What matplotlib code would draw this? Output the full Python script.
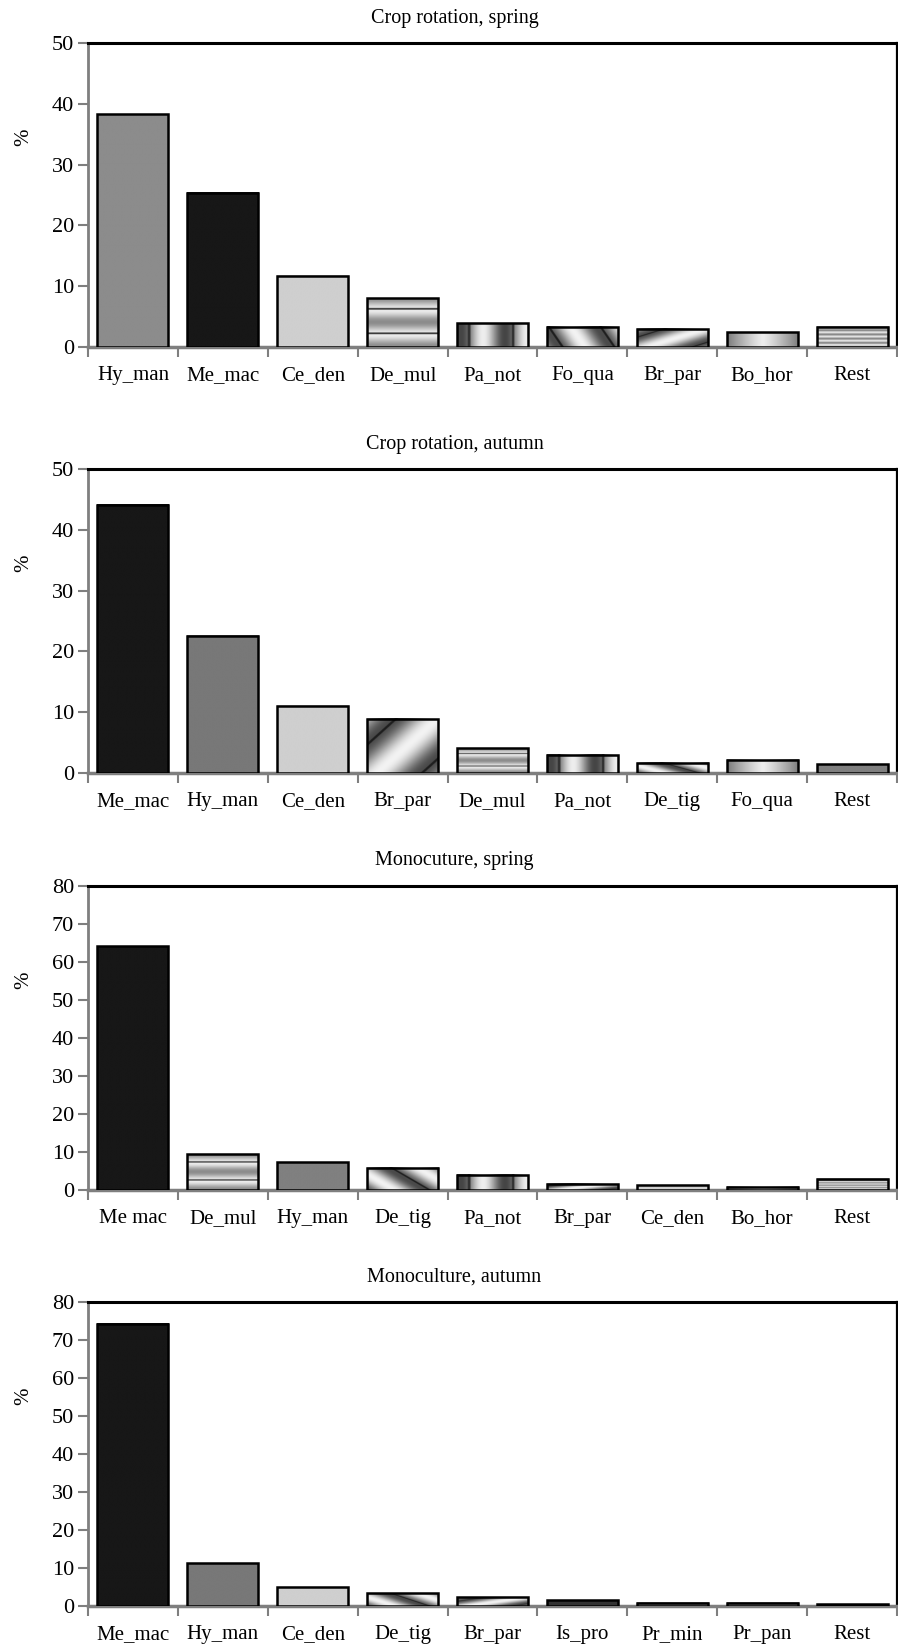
import numpy as np
import matplotlib
matplotlib.use("Agg")
import matplotlib.pyplot as plt
from matplotlib.ticker import MultipleLocator

plt.rcParams['font.family'] = ['Liberation Serif', 'DejaVu Serif']

# ---- data -------------------------------------------------------------
titles = ["Crop rotation, spring", "Crop rotation, autumn",
          "Monocuture, spring", "Monoculture, autumn"]

species_rot_spring = ["Hy_man", "Me_mac", "Ce_den", "De_mul", "Pa_not",
                      "Fo_qua", "Br_par", "Bo_hor", "Rest"]
pct_rot_spring = [38.3, 25.4, 11.7, 8.0, 3.9, 3.3, 3.0, 2.4, 3.3]

species_rot_autumn = ["Me_mac", "Hy_man", "Ce_den", "Br_par", "De_mul",
                      "Pa_not", "De_tig", "Fo_qua", "Rest"]
pct_rot_autumn = [44.1, 22.6, 11.1, 8.9, 4.1, 3.0, 1.7, 2.2, 1.4]

species_mono_spring = ["Me mac", "De_mul", "Hy_man", "De_tig", "Pa_not",
                       "Br_par", "Ce_den", "Bo_hor", "Rest"]
pct_mono_spring = [64.2, 9.4, 7.3, 5.8, 4.0, 1.7, 1.3, 0.8, 3.0]

species_mono_autumn = ["Me_mac", "Hy_man", "Ce_den", "De_tig", "Br_par",
                       "Is_pro", "Pr_min", "Pr_pan", "Rest"]
pct_mono_autumn = [74.3, 11.2, 4.9, 3.3, 2.3, 1.5, 0.9, 0.9, 0.4]

y_max = [50, 50, 80, 80]

panels = [
    (species_rot_spring, pct_rot_spring),
    (species_rot_autumn, pct_rot_autumn),
    (species_mono_spring, pct_mono_spring),
    (species_mono_autumn, pct_mono_autumn),
]

# ---- fill styles (grey level or textured gradient) --------------------
fill_style = {
    "Hy_man": ("solid", 0.50),
    "Me_mac": ("solid", 0.09),
    "Me mac": ("solid", 0.09),
    "Ce_den": ("solid", 0.81),
    "De_mul": ("hbands", None),
    "Pa_not": ("vbands", None),
    "Fo_qua": ("diag_down", None),
    "Br_par": ("diag_up", None),
    "Bo_hor": ("vgrad", None),
    "De_tig": ("diag_down2", None),
    "Rest": ("fine", None),
    "Is_pro": ("solid", 0.2),
    "Pr_min": ("solid", 0.55),
    "Pr_pan": ("solid", 0.55),
}
panel_overrides = {0: {"Hy_man": ("solid", 0.55)},
                   1: {"Fo_qua": ("vgrad", None), "Rest": ("solid", 0.5),
                       "Hy_man": ("solid", 0.47)},
                   3: {"Rest": ("solid", 0.55), "Hy_man": ("solid", 0.47)}}


def texture(kind, level, n=256):
    x = (np.arange(n) + 0.5)[None, :] / n
    y = (np.arange(n) + 0.5)[:, None] / n
    if kind == "solid":
        g = np.full((n, n), level)
    elif kind == "hbands":
        t = ((y - 0.26) / 0.5) % 1.0
        g = 0.55 + 0.38 * np.cos(np.pi * t) ** 2
        g = np.where(t < 0.07, 0.2, g)
    elif kind == "fine":
        t = (y * 5.0) % 1.0
        g = 0.5 + 0.42 * np.sin(np.pi * t) ** 2
    elif kind == "vbands":
        t = ((x - 0.15) / 0.61) % 1.0
        g = 0.6 + 0.33 * np.cos(2 * np.pi * (t - 0.35))
        g = np.where(t < 0.06, 0.2, g)
    elif kind == "vgrad":
        g = 0.93 - 0.45 * np.abs(2 * x - 1) ** 1.2
    elif kind == "diag_down":
        t = ((x + 0.2 * y - 0.2) / 0.72) % 1.0
        g = 0.62 + 0.33 * np.cos(2 * np.pi * (t - 0.45))
        g = np.where(t < 0.05, 0.12, g)
    elif kind == "diag_down2":
        t = ((x + 0.55 * y) / 0.85) % 1.0
        g = 0.62 + 0.33 * np.cos(2 * np.pi * (t - 0.45))
        g = np.where(t < 0.05, 0.12, g)
    elif kind == "diag_up":
        t = ((x - 0.85 * y + 0.46) / 1.2) % 1.0
        g = 0.62 + 0.33 * np.cos(2 * np.pi * (t - 0.5))
        g = np.where(t < 0.04, 0.12, g)
    else:
        g = np.full((n, n), 0.5)
    return np.broadcast_to(g, (n, n))


# ---- layout -----------------------------------------------------------
W, H = 898, 1652
fig = plt.figure(figsize=(W / 100, H / 100), dpi=100)
ax_left, ax_right = 88, 897
ax_h = 304
tops = [43, 469, 886, 1302]
grey = "#7f7f7f"

for i, ((names, vals), title, ym) in enumerate(zip(panels, titles, y_max)):
    top = tops[i]
    ax = fig.add_axes([ax_left / W, 1 - (top + ax_h) / H,
                       (ax_right - ax_left) / W, ax_h / H])
    x = np.arange(len(names))
    bars = ax.bar(x, vals, width=0.79, color="none", edgecolor="black",
                  linewidth=1.8, zorder=4)
    overrides = panel_overrides.get(i, {})
    for name, patch in zip(names, bars.patches):
        kind, level = overrides.get(name, fill_style.get(name, ("solid", 0.5)))
        x0, w, h = patch.get_x(), patch.get_width(), patch.get_height()
        ax.imshow(texture(kind, level), extent=(x0, x0 + w, 0, h),
                  origin="lower", cmap="gray", vmin=0, vmax=1,
                  aspect="auto", interpolation="bilinear", zorder=3)

    ax.set_xlim(-0.5, len(names) - 0.5)
    ax.set_ylim(0, ym)
    ax.set_aspect("auto")

    ax.yaxis.set_major_locator(MultipleLocator(10))
    ax.tick_params(axis="y", direction="out", length=7, width=1.5,
                   color=grey, labelsize=16, pad=3)
    ax.set_xticks(x)
    ax.set_xticklabels(names, fontsize=15)
    ax.tick_params(axis="x", which="major", length=0, pad=14)
    ax.set_xticks(np.arange(-0.5, len(names), 1.0), minor=True)
    ax.tick_params(axis="x", which="minor", direction="out", length=7,
                   width=1.5, color=grey)

    ax.spines["left"].set_color(grey)
    ax.spines["left"].set_linewidth(2)
    ax.spines["bottom"].set_color(grey)
    ax.spines["bottom"].set_linewidth(2.5)
    ax.spines["top"].set_color("black")
    ax.spines["top"].set_linewidth(2.2)
    ax.spines["right"].set_color("black")
    ax.spines["right"].set_linewidth(1.6)

    # title centred over the whole chart block rather than the plot box
    ax.text(0.453, 1.0 + 25 / ax_h, title, transform=ax.transAxes,
            ha="center", va="center", fontsize=14.5)
    ax.set_ylabel("%", fontsize=15)
    ax.yaxis.set_label_coords(-0.068, 0.69)

fig.savefig("out.png", dpi=100, facecolor="white")
